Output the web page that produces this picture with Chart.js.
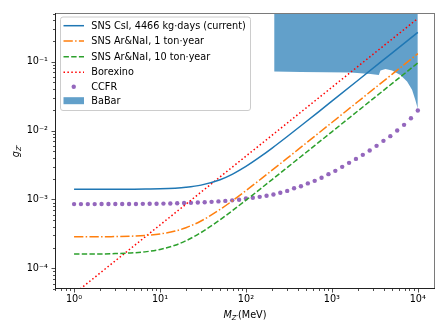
<!DOCTYPE html>
<html>
<head>
<meta charset="utf-8">
<script src="https://cdn.jsdelivr.net/npm/chart.js@4.4.1/dist/chart.umd.min.js"></script>
<style>
html,body{margin:0;padding:0;background:#fff;}
#wrap{width:448px;height:336px;position:relative;}
</style>
</head>
<body>
<div id="wrap"><canvas id="c" width="448" height="336"></canvas></div>
<script>
// ---- data ----
const snsMass = [1, 1.5, 2, 3, 5, 7, 10, 15, 20, 30, 50, 70, 100, 150, 200, 300, 500, 700, 1000, 2000, 5000, 10000];
const snsCsI = [1.40e-3, 1.40e-3, 1.40e-3, 1.402e-3, 1.406e-3, 1.414e-3, 1.425e-3, 1.456e-3, 1.498e-3, 1.613e-3, 1.934e-3, 2.335e-3, 3.015e-3, 4.243e-3, 5.52e-3, 8.13e-3, 1.342e-2, 1.874e-2, 2.674e-2, 5.34e-2, 0.1335, 0.267];
const snsArNaI1 = [2.86e-4, 2.86e-4, 2.86e-4, 2.887e-4, 2.934e-4, 3.003e-4, 3.146e-4, 3.47e-4, 3.878e-4, 4.86e-4, 7.15e-4, 9.61e-4, 1.341e-3, 1.986e-3, 2.636e-3, 3.94e-3, 6.56e-3, 9.17e-3, 1.31e-2, 2.62e-2, 6.55e-2, 0.131];
const snsArNaI10 = [1.61e-4, 1.61e-4, 1.61e-4, 1.636e-4, 1.68e-4, 1.745e-4, 1.875e-4, 2.16e-4, 2.506e-4, 3.30e-4, 5.06e-4, 6.91e-4, 9.74e-4, 1.449e-3, 1.927e-3, 2.885e-3, 4.80e-3, 6.72e-3, 9.60e-3, 1.92e-2, 4.80e-2, 9.60e-2];
const borexinoMass = [1, 10, 100, 1000, 10000];
const borexino = [4.25e-5, 4.25e-4, 4.25e-3, 4.25e-2, 0.425];
const ccfrMass = [1, 1.2023, 1.4454, 1.7378, 2.0893, 2.5119, 3.02, 3.6308, 4.3652, 5.2481, 6.3096, 7.5858, 9.1201, 10.965, 13.183, 15.849, 19.055, 22.909, 27.542, 33.113, 39.811, 47.863, 57.544, 69.183, 83.176, 100, 120.23, 144.54, 173.78, 208.93, 251.19, 302, 363.08, 436.52, 524.81, 630.96, 758.58, 912.01, 1096.5, 1318.3, 1584.9, 1905.5, 2290.9, 2754.2, 3311.3, 3981.1, 4786.3, 5754.4, 6918.3, 8317.6, 10000];
const ccfr = [8.55e-4, 8.55e-4, 8.55e-4, 8.55e-4, 8.56e-4, 8.56e-4, 8.57e-4, 8.58e-4, 8.59e-4, 8.60e-4, 8.62e-4, 8.64e-4, 8.67e-4, 8.70e-4, 8.74e-4, 8.79e-4, 8.85e-4, 8.92e-4, 9.00e-4, 9.10e-4, 9.22e-4, 9.36e-4, 9.52e-4, 9.70e-4, 9.90e-4, 1.03e-3, 1.06e-3, 1.09e-3, 1.13e-3, 1.18e-3, 1.25e-3, 1.33e-3, 1.45e-3, 1.55e-3, 1.71e-3, 1.86e-3, 2.06e-3, 2.33e-3, 2.60e-3, 2.97e-3, 3.40e-3, 3.88e-3, 4.44e-3, 5.14e-3, 6.00e-3, 7.09e-3, 8.30e-3, 1.00e-2, 1.21e-2, 1.51e-2, 1.96e-2];
const babarMass = [213, 435, 1652, 2818, 3516, 3680, 4200, 5020, 6270, 7500, 8570, 9360, 9950, 10000];
const babarLow = [0.0721, 0.0710, 0.0697, 0.0665, 0.0643, 0.0745, 0.0785, 0.0745, 0.0643, 0.0516, 0.0390, 0.0279, 0.0211, 0.0200];
const xTicks = [1, 10, 100, 1000, 10000];
const xTickLabels = ['10⁰', '10¹', '10²', '10³', '10⁴'];
const yTicks = [1e-4, 1e-3, 1e-2, 1e-1];
const yTickLabels = ['10⁻⁴', '10⁻³', '10⁻²', '10⁻¹'];
const seriesLabels = ['SNS CsI, 4466 kg·days (current)', 'SNS Ar&NaI, 1 ton·year', 'SNS Ar&NaI, 10 ton·year', 'Borexino', 'CCFR', 'BaBar'];

const pts = (xs, ys) => xs.map((x, i) => ({x: x, y: ys[i]}));
const FONT = 'DejaVu Sans';
const FS = 9.7;

const datasets = [
  {label: seriesLabels[0], data: pts(snsMass, snsCsI), borderColor: '#1f77b4', borderWidth: 1.5, pointRadius: 0, cubicInterpolationMode: 'monotone', fill: false},
  {label: seriesLabels[1], data: pts(snsMass, snsArNaI1), borderColor: '#ff7f0e', borderWidth: 1.5, borderDash: [9.3, 2.3, 1.5, 2.3], pointRadius: 0, cubicInterpolationMode: 'monotone', fill: false},
  {label: seriesLabels[2], data: pts(snsMass, snsArNaI10), borderColor: '#2ca02c', borderWidth: 1.5, borderDash: [5.4, 2.3], pointRadius: 0, cubicInterpolationMode: 'monotone', fill: false},
  {label: seriesLabels[3], data: pts(borexinoMass, borexino), borderColor: '#ff0000', borderWidth: 1.5, borderDash: [1.5, 2.4], pointRadius: 0, fill: false},
  {label: seriesLabels[4], data: pts(ccfrMass, ccfr), borderColor: '#9467bd', backgroundColor: '#9467bd', showLine: false, pointRadius: 2.2, pointBorderWidth: 0, fill: false},
  {label: seriesLabels[5], data: pts(babarMass, babarLow), borderColor: 'rgba(0,0,0,0)', borderWidth: 0, backgroundColor: 'rgba(31,119,180,0.7)', pointRadius: 0, fill: 'end'}
];

function drawSub(ctx, x, y, main, sub, after, align) {
  const mainFont = 'italic ' + FS + 'px "' + FONT + '"';
  const subFont = 'italic ' + (FS * 0.7).toFixed(2) + 'px "' + FONT + '"';
  const regFont = FS + 'px "' + FONT + '"';
  ctx.font = mainFont; const w1 = ctx.measureText(main).width;
  ctx.font = subFont; const w2 = ctx.measureText(sub).width;
  ctx.font = regFont; const w3 = after ? ctx.measureText(after).width : 0;
  const total = w1 + w2 + w3;
  let sx = align === 'center' ? x - total / 2 : x;
  ctx.textBaseline = 'alphabetic'; ctx.textAlign = 'left';
  ctx.font = mainFont; ctx.fillText(main, sx, y);
  ctx.font = subFont; ctx.fillText(sub, sx + w1, y + 2.2);
  if (after) { ctx.font = regFont; ctx.fillText(after, sx + w1 + w2, y); }
}

const decor = {
  id: 'decor',
  afterDraw(chart) {
    const ctx = chart.ctx;
    const a = chart.chartArea;
    const xs = chart.scales.x, ys = chart.scales.y;
    ctx.save();
    // spines
    ctx.lineWidth = 1;
    ctx.strokeStyle = '#7a7a7a';
    ctx.beginPath();
    ctx.moveTo(a.left, a.top + 0.5); ctx.lineTo(a.right, a.top + 0.5);
    ctx.moveTo(a.right - 0.5, a.top); ctx.lineTo(a.right - 0.5, a.bottom);
    ctx.stroke();
    ctx.strokeStyle = '#222';
    ctx.beginPath();
    ctx.moveTo(a.left + 0.5, a.top); ctx.lineTo(a.left + 0.5, a.bottom + 0.5);
    ctx.moveTo(a.left, a.bottom - 0.5); ctx.lineTo(a.right, a.bottom - 0.5);
    ctx.stroke();
    // ticks
    ctx.strokeStyle = '#222';
    ctx.lineWidth = 0.8;
    ctx.beginPath();
    for (let e = -1; e <= 4; e++) {
      for (let m = 1; m <= 9; m++) {
        const v = m * Math.pow(10, e);
        if (v < xs.min || v > xs.max) continue;
        const px = Math.round(xs.getPixelForValue(v)) + 0.5;
        const len = m === 1 ? 3.5 : 2;
        ctx.moveTo(px, a.bottom); ctx.lineTo(px, a.bottom + len);
      }
    }
    for (let e = -5; e <= 0; e++) {
      for (let m = 1; m <= 9; m++) {
        const v = m * Math.pow(10, e);
        if (v < ys.min || v > ys.max) continue;
        const py = Math.round(ys.getPixelForValue(v)) + 0.5;
        const len = m === 1 ? 3.5 : 2;
        ctx.moveTo(a.left, py); ctx.lineTo(a.left - len, py);
      }
    }
    ctx.stroke();
    // axis titles
    ctx.fillStyle = '#000';
    drawSub(ctx, (a.left + a.right) / 2, 318, 'M', 'Z′', '(MeV)', 'center');
    ctx.save();
    ctx.translate(19, (a.top + a.bottom) / 2);
    ctx.rotate(-Math.PI / 2);
    drawSub(ctx, 0, 0, 'g', 'Z′', '', 'center');
    ctx.restore();
    // legend
    const lx = 60, ly = 16.5, lw = 190, lh = 93.5;
    ctx.fillStyle = 'rgba(255,255,255,0.8)';
    ctx.strokeStyle = '#cccccc';
    ctx.lineWidth = 1;
    ctx.beginPath();
    ctx.roundRect(lx + 0.5, ly + 0.5, lw, lh, 2.5);
    ctx.fill(); ctx.stroke();
    const rows = [25.7, 41, 56.7, 72.3, 86.7, 100.7];
    const hx0 = 63.5, hx1 = 84;
    chart.data.datasets.forEach((ds, i) => {
      const ry = rows[i];
      ctx.save();
      if (i === 4) {
        ctx.fillStyle = ds.backgroundColor;
        ctx.beginPath(); ctx.arc((hx0 + hx1) / 2, ry, 2.2, 0, Math.PI * 2); ctx.fill();
      } else if (i === 5) {
        ctx.fillStyle = ds.backgroundColor;
        ctx.fillRect(hx0, ry - 3.5, hx1 - hx0, 7);
      } else {
        ctx.strokeStyle = ds.borderColor;
        ctx.lineWidth = ds.borderWidth;
        ctx.setLineDash(ds.borderDash || []);
        ctx.beginPath(); ctx.moveTo(hx0, ry); ctx.lineTo(hx1, ry); ctx.stroke();
      }
      ctx.restore();
      ctx.fillStyle = '#000';
      ctx.font = FS + 'px "' + FONT + '"';
      ctx.textAlign = 'left'; ctx.textBaseline = 'middle';
      ctx.fillText(ds.label, 91.3, ry + 0.5);
    });
    ctx.restore();
  }
};

new Chart(document.getElementById('c'), {
  type: 'line',
  data: {datasets: datasets},
  options: {
    responsive: false,
    animation: false,
    devicePixelRatio: 1,
    layout: {padding: {left: 0, right: 13, top: 13, bottom: 0}},
    plugins: {legend: {display: false}, tooltip: {enabled: false}, title: {display: false}},
    scales: {
      x: {
        type: 'logarithmic', position: 'bottom', min: 0.631, max: 15849,
        grid: {display: false, drawTicks: false}, border: {display: false},
        afterBuildTicks: s => { s.ticks = xTicks.map(v => ({value: v})); },
        afterFit: s => { s.height = 47; },
        ticks: {autoSkip: false, maxRotation: 0, padding: 5, color: '#000', font: {family: FONT, size: FS},
          callback: (v) => { const i = xTicks.indexOf(v); return i >= 0 ? xTickLabels[i] : ''; }}
      },
      y: {
        type: 'logarithmic', position: 'left', min: 5e-5, max: 0.51,
        grid: {display: false, drawTicks: false}, border: {display: false},
        afterBuildTicks: s => { s.ticks = yTicks.map(v => ({value: v})); },
        afterFit: s => { s.width = 55; },
        ticks: {autoSkip: false, padding: 7, color: '#000', font: {family: FONT, size: FS},
          callback: (v) => { const i = yTicks.findIndex(t => Math.abs(t - v) / t < 1e-6); return i >= 0 ? yTickLabels[i] : ''; }}
      }
    }
  },
  plugins: [decor]
});
</script>
</body>
</html>
